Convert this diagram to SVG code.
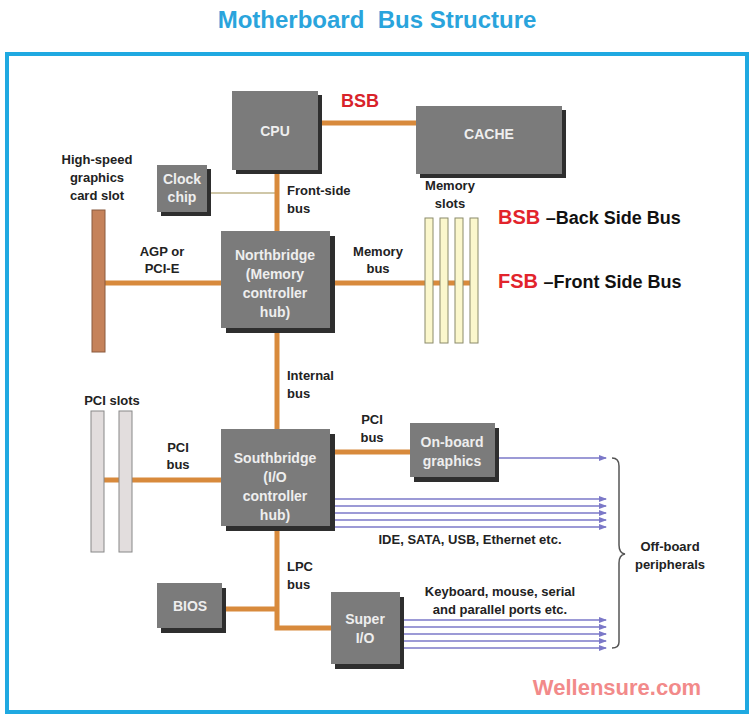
<svg xmlns="http://www.w3.org/2000/svg" width="755" height="723" viewBox="0 0 755 723">
<style>
text{font-family:"Liberation Sans",Arial,sans-serif;font-weight:bold}
.box{fill:#7b7b7b}
.sh{fill:#2e2e2e}
.bt{fill:#eeeeee;font-size:14px;text-anchor:middle}
.lb{fill:#222;font-size:13px}
.bus{stroke:#d88a3c;stroke-width:5;fill:none}
.ar{stroke:#7b78c8;stroke-width:1.3;marker-end:url(#a)}
</style>
<defs><marker id="a" markerWidth="8" markerHeight="8" refX="7" refY="4" orient="auto" markerUnits="userSpaceOnUse"><path d="M0,1L8,4L0,7z" fill="#7b78c8"/></marker></defs>
<rect width="755" height="723" fill="#fff"/>
<text x="377" y="28" font-size="24" fill="#2aa4dc" text-anchor="middle" xml:space="preserve">Motherboard  Bus Structure</text>
<rect x="7" y="54" width="740" height="658" fill="none" stroke="#1fa9e1" stroke-width="4"/>
<g id="connectors">
<line class="bus" x1="318" y1="123" x2="416" y2="123"/>
<line x1="207" y1="193" x2="277" y2="193" stroke="#cfc7a8" stroke-width="2"/>
<line class="bus" x1="277" y1="170" x2="277" y2="232"/>
<line class="bus" x1="105" y1="283" x2="221" y2="283"/>
<line class="bus" x1="330" y1="283" x2="470" y2="283"/>
<line class="bus" x1="277" y1="331" x2="277" y2="429"/>
<line class="bus" x1="91" y1="480" x2="221" y2="480"/>
<line class="bus" x1="330" y1="452" x2="410" y2="452"/>
<polyline class="bus" points="277,527 277,628 331,628"/>
<line class="bus" x1="222" y1="609" x2="277" y2="609"/>
<line class="ar" x1="495" y1="458" x2="606" y2="458"/>
<line class="ar" x1="335" y1="499" x2="606" y2="499"/>
<line class="ar" x1="335" y1="506" x2="606" y2="506"/>
<line class="ar" x1="335" y1="513" x2="606" y2="513"/>
<line class="ar" x1="335" y1="520" x2="606" y2="520"/>
<line class="ar" x1="335" y1="527" x2="606" y2="527"/>
<line class="ar" x1="400" y1="620" x2="606" y2="620"/>
<line class="ar" x1="400" y1="627" x2="606" y2="627"/>
<line class="ar" x1="400" y1="634" x2="606" y2="634"/>
<line class="ar" x1="400" y1="641" x2="606" y2="641"/>
<line class="ar" x1="400" y1="648" x2="606" y2="648"/>
<path d="M612,458 Q619,458 619,466 L619,545 Q619,553 625,554 Q619,555 619,563 L619,642 Q619,648 612,648" fill="none" stroke="#555" stroke-width="1.5"/>
</g>
<g id="agpslot"><rect x="92" y="210" width="13" height="142" fill="#c5825a" stroke="#8a5a3e"/></g>
<g id="memslots" fill="#fbf7cc" stroke="#8a8a6a"><rect x="425" y="218" width="8" height="125"/><rect x="440" y="218" width="8" height="125"/><rect x="455" y="218" width="8" height="125"/><rect x="470" y="218" width="8" height="125"/></g>
<g id="pcislots" fill="#e2dddd" stroke="#888"><rect x="91" y="411" width="13" height="141"/><rect x="119" y="411" width="13" height="141"/></g>
<g id="cpu"><rect class="sh" x="236" y="95" width="86" height="79"/><rect class="box" x="232" y="91" width="86" height="79"/><text class="bt" x="275" y="136" font-size="15">CPU</text></g>
<g id="cache"><rect class="sh" x="420" y="110" width="146" height="68"/><rect class="box" x="416" y="106" width="146" height="68"/><text class="bt" x="489" y="139" font-size="18">CACHE</text></g>
<g id="clock"><rect class="sh" x="161" y="169" width="50" height="47"/><rect class="box" x="157" y="165" width="50" height="47"/><text class="bt" x="182" y="184" fill="#ddd">Clock</text><text class="bt" x="182" y="202">chip</text></g>
<g id="northbridge"><rect class="sh" x="226" y="236" width="109" height="97"/><rect class="box" x="221" y="231" width="109" height="97"/><text class="bt" x="275" y="260" font-size="13">Northbridge</text><text class="bt" x="275" y="279" font-size="13">(Memory</text><text class="bt" x="275" y="298" font-size="13">controller</text><text class="bt" x="275" y="317" font-size="13">hub)</text></g>
<g id="southbridge"><rect class="sh" x="226" y="434" width="109" height="97"/><rect class="box" x="221" y="429" width="109" height="97"/><text class="bt" x="275" y="463" font-size="13">Southbridge</text><text class="bt" x="275" y="482" font-size="13">(I/O</text><text class="bt" x="275" y="501" font-size="13">controller</text><text class="bt" x="275" y="520" font-size="13">hub)</text></g>
<g id="onboard"><rect class="sh" x="414" y="428" width="85" height="54"/><rect class="box" x="410" y="423" width="85" height="54"/><text class="bt" x="452" y="447" font-size="13">On-board</text><text class="bt" x="452" y="466" font-size="13">graphics</text></g>
<g id="bios"><rect class="sh" x="161" y="588" width="65" height="45"/><rect class="box" x="157" y="583" width="65" height="45"/><text class="bt" x="190" y="611" font-size="13">BIOS</text></g>
<g id="superio"><rect class="sh" x="335" y="597" width="69" height="72"/><rect class="box" x="331" y="592" width="69" height="72"/><text class="bt" x="365" y="624" font-size="13">Super</text><text class="bt" x="365" y="643" font-size="13">I/O</text></g>
<g id="labels">
<text x="360" y="107" font-size="18" fill="#d8232a" text-anchor="middle">BSB</text>
<text class="lb" x="97" y="164" text-anchor="middle">High-speed</text><text class="lb" x="97" y="182" text-anchor="middle">graphics</text><text class="lb" x="97" y="200" text-anchor="middle">card slot</text>
<text class="lb" x="287" y="195">Front-side</text><text class="lb" x="287" y="213">bus</text>
<text class="lb" x="450" y="190" text-anchor="middle">Memory</text><text class="lb" x="450" y="208" text-anchor="middle">slots</text>
<text class="lb" x="162" y="256" text-anchor="middle">AGP or</text><text class="lb" x="162" y="273" text-anchor="middle">PCI-E</text>
<text class="lb" x="378" y="256" text-anchor="middle">Memory</text><text class="lb" x="378" y="273" text-anchor="middle">bus</text>
<text x="498" y="224" font-size="20" fill="#e2242c">BSB <tspan fill="#111" font-size="18">–Back Side Bus</tspan></text>
<text x="498" y="288" font-size="20" fill="#e2242c">FSB <tspan fill="#111" font-size="18">–Front Side Bus</tspan></text>
<text class="lb" x="287" y="380">Internal</text><text class="lb" x="287" y="398">bus</text>
<text class="lb" x="112" y="405" text-anchor="middle">PCI slots</text>
<text class="lb" x="178" y="452" text-anchor="middle">PCI</text><text class="lb" x="178" y="469" text-anchor="middle">bus</text>
<text class="lb" x="372" y="424" text-anchor="middle">PCI</text><text class="lb" x="372" y="442" text-anchor="middle">bus</text>
<text class="lb" x="470" y="544" text-anchor="middle">IDE, SATA, USB, Ethernet etc.</text>
<text class="lb" x="287" y="571">LPC</text><text class="lb" x="287" y="589">bus</text>
<text class="lb" x="500" y="596" text-anchor="middle">Keyboard, mouse, serial</text><text class="lb" x="500" y="614" text-anchor="middle">and parallel ports etc.</text>
<text class="lb" x="670" y="551" text-anchor="middle">Off-board</text><text class="lb" x="670" y="569" text-anchor="middle">peripherals</text>
<text x="617" y="695" font-size="22" font-weight="normal" fill="#f28a8a" text-anchor="middle">Wellensure.com</text>
</g>
</svg>
